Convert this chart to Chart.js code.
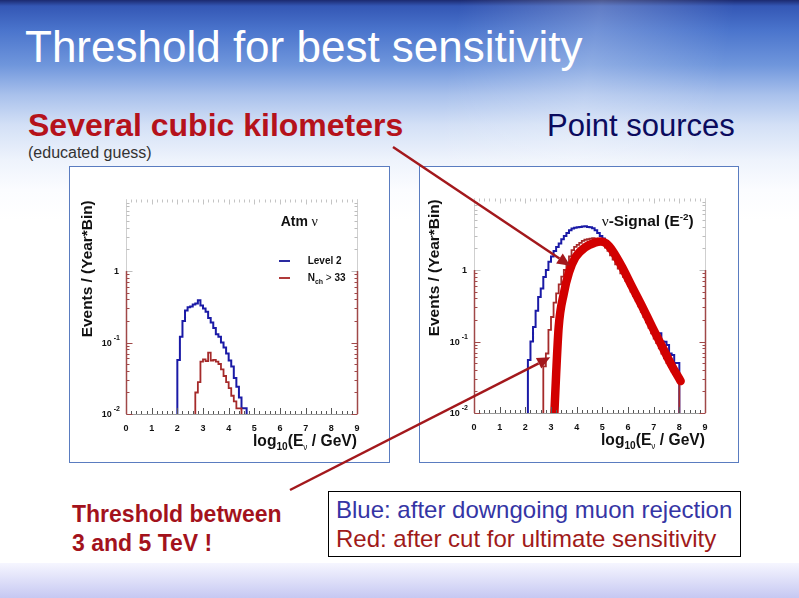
<!DOCTYPE html>
<html><head><meta charset="utf-8">
<script src="https://cdn.jsdelivr.net/npm/chart.js@4.4.1/dist/chart.umd.min.js"></script>
<style>
html,body{margin:0;padding:0;}
body{width:799px;height:598px;position:relative;overflow:hidden;font-family:"Liberation Sans",Arial,sans-serif;
background:linear-gradient(to bottom,#1c2a70 0px,#3457b5 6px,#4a74cc 30px,#6f96dc 65px,#a9c1ec 95px,#d3e0f6 125px,#eef3fc 160px,#fbfcff 190px,#ffffff 220px);}
.hl{position:absolute;left:0;top:0;width:799px;height:210px;background:linear-gradient(100deg,rgba(255,255,255,0) 55%,rgba(255,255,255,0.22) 72%,rgba(255,255,255,0) 88%);}
.bottom{position:absolute;left:0;top:563px;width:799px;height:35px;background:linear-gradient(to bottom,#f6f6ff,#c6c8f2);}
.t{position:absolute;white-space:nowrap;line-height:1;}
.box{position:absolute;background:#fff;border:1px solid #5a7cc0;}
.box canvas{position:absolute;left:0;top:0;}
#overlay{position:absolute;left:0;top:0;pointer-events:none;}
</style></head>
<body>
<div class="hl"></div>
<div class="bottom"></div>
<div class="t" style="left:25px;top:25px;font-size:44px;color:#fff;">Threshold for best sensitivity</div>
<div class="t" style="left:28px;top:109px;font-size:32px;font-weight:bold;color:#b5121b;">Several cubic kilometers</div>
<div class="t" style="left:547px;top:110px;font-size:31px;color:#0b0b5e;">Point sources</div>
<div class="t" style="left:28px;top:145px;font-size:16px;color:#333;">(educated guess)</div>
<div class="t" style="left:72px;top:500px;font-size:23px;font-weight:bold;color:#a3121c;line-height:29px;">Threshold between<br>3 and 5 TeV !</div>
<div style="position:absolute;left:328px;top:491px;width:413px;height:66px;box-sizing:border-box;border:1px solid #000;"></div>
<div class="t" style="left:336px;top:498px;font-size:24px;color:#3535a5;">Blue: after downgoing muon rejection</div>
<div class="t" style="left:336px;top:527px;font-size:24px;color:#a01a1a;">Red: after cut for ultimate sensitivity</div>

<div class="box" style="left:69px;top:166px;width:319px;height:295px;"><canvas id="c1" width="319" height="295"></canvas></div>
<div class="box" style="left:419px;top:166px;width:318px;height:295px;"><canvas id="c2" width="318" height="295"></canvas></div>
<canvas id="overlay" width="799" height="598"></canvas>

<script>
// ---------- data ----------
const xTickLabels = ['0','1','2','3','4','5','6','7','8','9'];
const yLabelDecades = [0, -1, -2];          // 10^0 shown as "1"
const binWidth = 0.1;

// Left panel: atmospheric neutrinos
const atmLevel2Start = 2.0;
const atmLevel2 = [0.016,0.057,0.12,0.2,0.28,0.31,0.32,0.34,0.35,0.39,0.33,0.3,0.27,0.22,0.19,0.16,0.13,0.12,0.1,0.085,0.07,0.056,0.046,0.032,0.024,0.017,0.012];
const atmNchStart = 2.7;
const atmNch = [0.013,0.02,0.028,0.054,0.058,0.055,0.072,0.056,0.057,0.054,0.05,0.042,0.034,0.028,0.023,0.018,0.015,0.012];

// Right panel: E^-2 neutrino signal
const sigLevel2Start = 2.1;
const sigLevel2 = [0.021,0.055,0.1,0.16,0.27,0.42,0.55,0.8,1.0,1.3,1.55,1.85,2.1,2.35,2.7,3.0,3.3,3.6,3.8,3.9,3.95,4.0,4.05,4.1,4.0,3.95,3.85,3.6,3.3,3.0,2.75,2.5,2.2,1.95,1.7,1.45,1.25,1.05,0.92,0.8,0.68,0.58,0.49,0.42,0.36,0.3,0.25,0.21,0.18,0.15,0.13,0.115,0.13,0.1,0.099,0.089,0.068,0.065,0.05];
const sigNchStart = 2.7;
const sigNch = [0.02,0.045,0.068,0.145,0.22,0.35,0.47,0.63,0.81,1.0,1.24,1.55,1.9,2.1,2.25,2.4,2.55,2.65,2.7,2.75,2.8,2.75,2.6,2.4,2.25,2.05,1.85,1.6,1.4,1.2,1.05,0.9,0.8,0.7,0.6,0.5,0.43,0.37,0.31,0.26,0.22,0.185,0.155,0.13,0.11,0.095,0.08,0.068,0.058,0.05,0.044,0.038,0.034];

// Hand-drawn thick red curve on right panel
const curveX = [3.12,3.2,3.3,3.5,3.7,3.95,4.35,4.7,4.95,5.15,5.4,5.77,6.16,6.55,6.94,7.33,7.72,8.05];
const curveY = [0.008,0.035,0.16,0.47,0.92,1.5,2.1,2.4,2.5,2.35,1.85,1.1,0.58,0.31,0.16,0.085,0.045,0.028];

// legend labels
const leftTitle = 'Atm';
const legendLabels = ['Level 2', 'N'];

// arrow targets (data coords in right panel)
const arrowTipX = [3.75, 2.97];
const arrowTipY = [1.15, 0.06];
</script>
<script>
const FONT = '"Liberation Sans", Arial, sans-serif';
const BLUE = '#1a1aa6', RED = '#a52a2a', THICK = '#d20000', FRAME_RED = '#a04848';

function histPoints(start, vals){
  const pts = [{x:start, y:1e-4}];
  vals.forEach((v,i)=>pts.push({x:+(start+i*binWidth).toFixed(3), y:v}));
  const end = +(start+vals.length*binWidth).toFixed(3);
  pts.push({x:end, y:vals[vals.length-1]});
  pts.push({x:end, y:1e-4});
  return pts;
}
function rich(ctx, segs, x, y, align, targetW){
  let w = 0;
  segs.forEach(s=>{ctx.font=(s.b?'bold ':'')+s.size+'px '+(s.f||FONT); s.w=ctx.measureText(s.t).width; w+=s.w;});
  const sx = targetW ? targetW/w : 1;
  let x0 = align==='right' ? x-w*sx : align==='center' ? x-w*sx/2 : x;
  ctx.save(); ctx.translate(x0,y); ctx.scale(sx,1);
  let cx=0;
  segs.forEach(s=>{ctx.font=(s.b?'bold ':'')+s.size+'px '+(s.f||FONT); ctx.fillText(s.t,cx,s.dy||0); cx+=s.w;});
  ctx.restore();
}
function drawFrame(chart, yTitleX){
  const ctx=chart.ctx, a=chart.chartArea, xs=chart.scales.x, ys=chart.scales.y;
  const y1 = ys.getPixelForValue(1);
  ctx.save();
  ctx.lineWidth=1;
  // top dotted ticks
  ctx.strokeStyle='#c4c4c4';
  for(let v=0; v<=9.001; v+=0.2){
    const px=Math.round(xs.getPixelForValue(v))+0.5;
    const L = Math.abs(v-Math.round(v))<1e-6 ? 5 : 3;
    ctx.beginPath(); ctx.moveTo(px,a.top); ctx.lineTo(px,a.top+L); ctx.stroke();
  }
  // bottom axis
  ctx.strokeStyle='#9a9a9a';
  ctx.beginPath(); ctx.moveTo(a.left,Math.round(a.bottom)+0.5); ctx.lineTo(a.right,Math.round(a.bottom)+0.5); ctx.stroke();
  ctx.strokeStyle='#555';
  for(let v=0; v<=9.001; v+=0.2){
    const px=Math.round(xs.getPixelForValue(v))+0.5;
    const L = Math.abs(v-Math.round(v))<1e-6 ? 6 : 3;
    ctx.beginPath(); ctx.moveTo(px,a.bottom); ctx.lineTo(px,a.bottom-L); ctx.stroke();
  }
  // side axes: grey upper, red-brown lower
  [a.left, a.right].forEach((X,k)=>{
    const px=Math.round(X)+0.5, dir = k===0?1:-1;
    ctx.strokeStyle='#cfcfcf';
    ctx.beginPath(); ctx.moveTo(px,a.top); ctx.lineTo(px,y1); ctx.stroke();
    ctx.strokeStyle='#bdbdbd';
    for(let m=1;m<=9;m++){
      const py=Math.round(ys.getPixelForValue(m))+0.5;
      ctx.beginPath(); ctx.moveTo(px,py); ctx.lineTo(px+dir*(m===1?6:3),py); ctx.stroke();
    }
    ctx.strokeStyle=FRAME_RED; ctx.lineWidth=1.5;
    ctx.beginPath(); ctx.moveTo(px,y1); ctx.lineTo(px,a.bottom); ctx.stroke();
    ctx.lineWidth=1;
    for(let d=-2; d<0; d++){
      for(let m=1;m<=9;m++){
        const py=Math.round(ys.getPixelForValue(m*Math.pow(10,d)))+0.5;
        ctx.beginPath(); ctx.moveTo(px,py); ctx.lineTo(px+dir*(m===1?6:3),py); ctx.stroke();
      }
    }
  });
  // tick labels
  ctx.fillStyle='#111'; ctx.textBaseline='alphabetic';
  xTickLabels.forEach((t,i)=>{
    rich(ctx,[{t:t,size:9,b:true}], xs.getPixelForValue(i), a.bottom+17, 'center');
  });
  yLabelDecades.forEach(d=>{
    const py = ys.getPixelForValue(Math.pow(10,d));
    if(d===0) rich(ctx,[{t:'1',size:9,b:true}], a.left-7, py+3, 'right');
    else rich(ctx,[{t:'10',size:9,b:true},{t:' '+String(d),size:7,b:true,dy:-6}], a.left-6, py+3, 'right');
  });
  // axis titles
  rich(ctx,[{t:'log',size:17,b:true},{t:'10',size:11,b:true,dy:4},{t:'(E',size:17,b:true},{t:'ν',size:9,dy:4},{t:' / GeV)',size:17,b:true}], a.right, a.bottom+32, 'right', 104);
  ctx.save();
  ctx.translate(yTitleX, (a.top+a.bottom)/2 - 38); ctx.rotate(-Math.PI/2);
  rich(ctx,[{t:'Events / (Year*Bin)',size:15.5,b:true}], 0, 0, 'center', 137);
  ctx.restore();
  ctx.restore();
}

function makeChart(id, datasets, padding, extra){
  return new Chart(document.getElementById(id), {
    type:'line',
    data:{datasets:datasets},
    options:{
      responsive:false, animation:false, devicePixelRatio:1,
      layout:{padding:padding},
      parsing:false, normalized:true,
      plugins:{legend:{display:false}, tooltip:{enabled:false}},
      scales:{
        x:{type:'linear',min:0,max:9,display:false},
        y:{type:'logarithmic',min:0.01,max:10,display:false}
      },
      elements:{point:{radius:0}}
    },
    plugins:[{id:'frame'+id, afterDatasetsDraw(chart){ extra(chart); }}]
  });
}
function histDS(start, vals, color, w){
  return {data:histPoints(start, vals), borderColor:color, borderWidth:w, stepped:'after', fill:false, clip:0, pointRadius:0};
}

const chart1 = makeChart('c1', [
  histDS(atmNchStart, atmNch, RED, 1.8),
  histDS(atmLevel2Start, atmLevel2, BLUE, 2)
], {left:56, right:32, top:32.5, bottom:48}, chart=>{
  drawFrame(chart, 92-70);
  const ctx=chart.ctx;
  ctx.save(); ctx.fillStyle='#111';
  rich(ctx,[{t:leftTitle,size:14,b:true},{t:' ν',size:14,f:'"Liberation Serif", serif'}], 280.7-70, 226-167, 'left');
  ctx.lineWidth=2;
  ctx.strokeStyle='#2a2aa0'; ctx.beginPath(); ctx.moveTo(279-70,261-167); ctx.lineTo(290-70,261-167); ctx.stroke();
  ctx.strokeStyle='#b03a3a'; ctx.beginPath(); ctx.moveTo(279-70,278-167); ctx.lineTo(290-70,278-167); ctx.stroke();
  rich(ctx,[{t:legendLabels[0],size:10,b:true}], 307.7-70, 264-167, 'left');
  rich(ctx,[{t:legendLabels[1],size:10,b:true},{t:'ch',size:7,b:true,dy:3},{t:' > ',size:10},{t:'33',size:10,b:true}], 307.7-70, 280.5-167, 'left');
  ctx.restore();
});

const curveData = curveX.map((x,i)=>({x:x, y:curveY[i]}));
const chart2 = makeChart('c2', [
  {data:curveData, borderColor:THICK, borderWidth:8.5, tension:0.4, cubicInterpolationMode:'monotone', borderCapStyle:'round', borderJoinStyle:'round', clip:0, pointRadius:0},
  histDS(sigNchStart, sigNch, RED, 1.8),
  histDS(sigLevel2Start, sigLevel2, BLUE, 2)
], {left:54, right:33, top:31.5, bottom:49}, chart=>{
  drawFrame(chart, 439-420);
  const ctx=chart.ctx;
  ctx.save(); ctx.fillStyle='#111';
  rich(ctx,[{t:'ν',size:14,f:'"Liberation Serif", serif'},{t:'-Signal (E',size:14,b:true},{t:'-2',size:9,b:true,dy:-6},{t:')',size:14,b:true}], 601.7-420, 226-167, 'left', 92);
  ctx.restore();
});

// arrows overlay
(function(){
  const ov=document.getElementById('overlay').getContext('2d');
  const starts=[[393,147],[290,490]];
  const offX=420, offY=167;
  ov.strokeStyle='#a3181c'; ov.fillStyle='#a3181c'; ov.lineWidth=2.5;
  arrowTipX.forEach((tx,i)=>{
    const x2=chart2.scales.x.getPixelForValue(tx)+offX;
    const y2=chart2.scales.y.getPixelForValue(arrowTipY[i])+offY;
    const [x1,y1]=starts[i];
    const ang=Math.atan2(y2-y1,x2-x1), L=13, H=6;
    const bx=x2-L*Math.cos(ang), by=y2-L*Math.sin(ang);
    ov.beginPath(); ov.moveTo(x1,y1); ov.lineTo(bx,by); ov.stroke();
    ov.beginPath(); ov.moveTo(x2,y2);
    ov.lineTo(bx+H*Math.sin(ang), by-H*Math.cos(ang));
    ov.lineTo(bx-H*Math.sin(ang), by+H*Math.cos(ang));
    ov.closePath(); ov.fill();
  });
})();
</script>
</body></html>
